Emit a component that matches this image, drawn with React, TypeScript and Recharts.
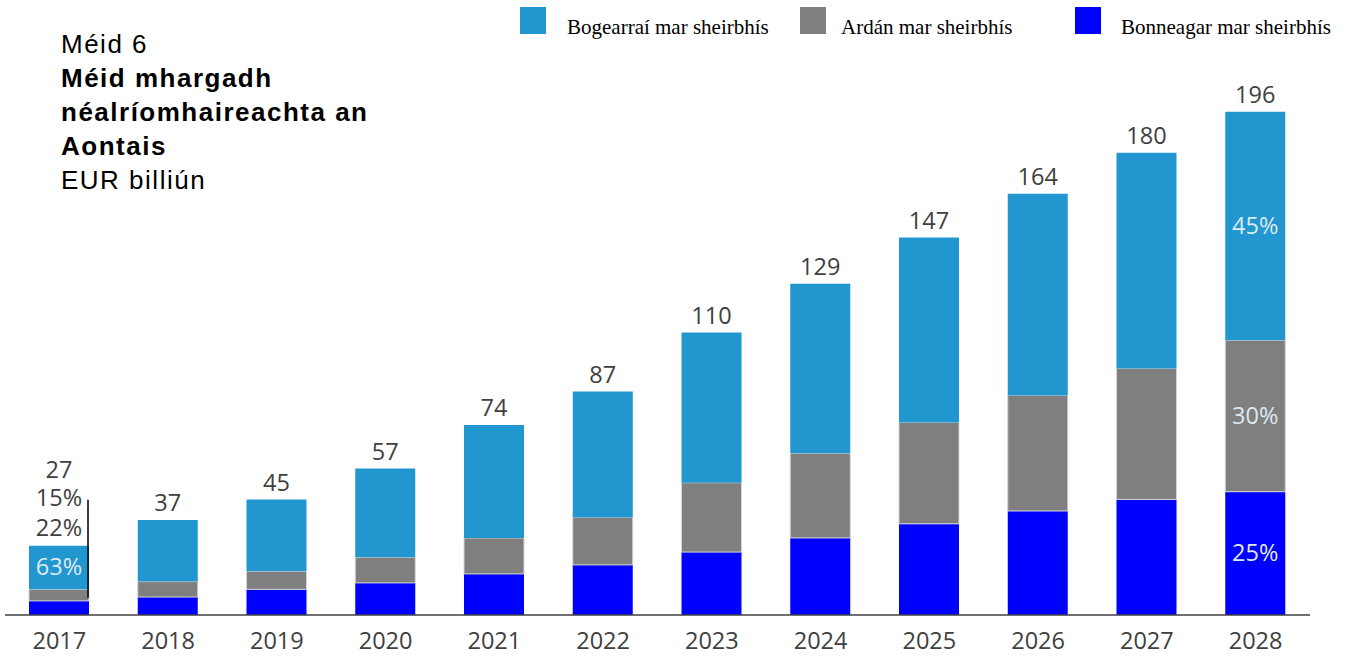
import { Bar, BarChart, LabelList, XAxis, YAxis } from "recharts";

const years = ["2017", "2018", "2019", "2020", "2021", "2022", "2023", "2024", "2025", "2026", "2027", "2028"];
const iaas = [5.5, 7, 10, 12.5, 16, 19.5, 24.5, 30, 35.5, 40.5, 45, 48];
const paas = [4.5, 6, 7, 10, 14, 18.5, 27, 33, 39.5, 45, 51, 59];
const saas = [17, 24, 28, 34.5, 44, 49, 58.5, 66, 72, 78.5, 84, 89];
const totals = [27, 37, 45, 57, 74, 87, 110, 129, 147, 164, 180, 196];

const saasPct = ["63%", "", "", "", "", "", "", "", "", "", "", "45%"];
const paasPct = ["22%", "", "", "", "", "", "", "", "", "", "", "30%"];
const iaasPct = ["15%", "", "", "", "", "", "", "", "", "", "", "25%"];

const seriesNames = ["Bogearraí mar sheirbhís", "Ardán mar sheirbhís", "Bonneagar mar sheirbhís"];
const seriesColors = ["#2196cf", "#7f7f7f", "#0000ff"];

const data = years.map((year, i) => ({
  year,
  iaas: iaas[i],
  paas: paas[i],
  saas: saas[i],
  total: totals[i],
}));

const numFont = "'Open Sans', 'DejaVu Sans', sans-serif";
const numSize = 23.5;
const textGray = "#404040";

// percent inside a segment (2017 gray/blue go above the bar, see renderTotal)
const insideLabel = (labels: string[], skipFirst: boolean) => (props: any) => {
  const { x, y, width, height, index } = props;
  const t = labels[index];
  if (!t || (skipFirst && index === 0)) return null;
  return (
    <text
      x={Number(x) + Number(width) / 2}
      y={Number(y) + Number(height) / 2 + 8}
      textAnchor="middle"
      fill="#dfe9f0"
      fontSize={numSize}
      fontFamily={numFont}
    >
      {t}
    </text>
  );
};

const renderTotal = (props: any) => {
  const { x, y, width, index, value } = props;
  const cx = Number(x) + Number(width) / 2;
  const top = Number(y);
  if (index === 0) {
    const right = Number(x) + Number(width) - 1;
    return (
      <g fontFamily={numFont} fontSize={numSize} fill={textGray}>
        <text x={cx} y={top - 67.5} textAnchor="middle">{value}</text>
        <text x={cx} y={top - 39.5} textAnchor="middle">{iaasPct[0]}</text>
        <text x={cx} y={top - 9.5} textAnchor="middle">{paasPct[0]}</text>
        <line x1={right} x2={right} y1={top - 46} y2={top + 52} stroke="#000" strokeWidth={1.5} />
      </g>
    );
  }
  return (
    <text x={cx} y={top - 8.5} textAnchor="middle" fill={textGray} fontSize={numSize} fontFamily={numFont}>
      {value}
    </text>
  );
};

const legendBox = [520, 800, 1075];
const legendText = [567, 841, 1121];

export default function App() {
  return (
    <div style={{ position: "absolute", left: 0, top: 0, width: 1349, height: 656, background: "#fff" }}>
      <div
        style={{
          position: "absolute",
          left: 61,
          top: 27,
          fontFamily: "'Liberation Sans', Arial, sans-serif",
          fontSize: 26,
          lineHeight: "34px",
          letterSpacing: "1.5px",
          color: "#000",
        }}
      >
        <div>Méid 6</div>
        <div style={{ fontWeight: "bold" }}>Méid mhargadh</div>
        <div style={{ fontWeight: "bold" }}>néalríomhaireachta an</div>
        <div style={{ fontWeight: "bold" }}>Aontais</div>
        <div>EUR billiún</div>
      </div>

      {seriesNames.map((name, i) => (
        <div key={name}>
          <div
            style={{ position: "absolute", left: legendBox[i], top: 7, width: 26, height: 27, background: seriesColors[i] }}
          />
          <span
            style={{
              position: "absolute",
              left: legendText[i],
              top: 14,
              lineHeight: "26px",
              whiteSpace: "nowrap",
              fontFamily: "'Liberation Serif', 'Times New Roman', serif",
              fontSize: 21,
              color: "#000",
            }}
          >
            {name}
          </span>
        </div>
      ))}

      <div style={{ position: "absolute", left: 0, top: 0 }}>
        <BarChart
          width={1349}
          height={656}
          data={data}
          margin={{ top: 50, right: 39, bottom: 1, left: 5 }}
          barSize={60}
        >
          <XAxis
            dataKey="year"
            height={40}
            tickLine={false}
            tickMargin={11}
            axisLine={{ stroke: "#404040", strokeWidth: 1.5 }}
            tick={{ fill: textGray, fontSize: numSize, fontFamily: numFont }}
          />
          <YAxis hide domain={[0, 220]} />
          <Bar dataKey="iaas" stackId="a" fill={seriesColors[2]} isAnimationActive={false}>
            <LabelList dataKey="iaas" content={insideLabel(iaasPct, true)} />
          </Bar>
          <Bar
            dataKey="paas"
            stackId="a"
            fill={seriesColors[1]}
            stroke="#d6d6d6"
            strokeWidth={1}
            isAnimationActive={false}
          >
            <LabelList dataKey="paas" content={insideLabel(paasPct, true)} />
          </Bar>
          <Bar dataKey="saas" stackId="a" fill={seriesColors[0]} isAnimationActive={false}>
            <LabelList dataKey="saas" content={insideLabel(saasPct, false)} />
            <LabelList dataKey="total" content={renderTotal} />
          </Bar>
        </BarChart>
      </div>
    </div>
  );
}
